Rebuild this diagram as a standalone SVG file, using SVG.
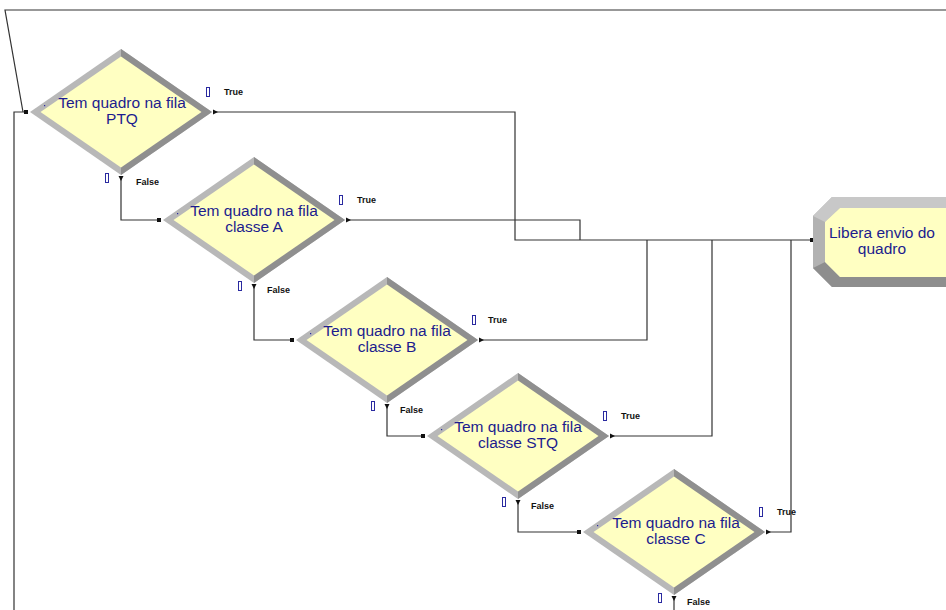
<svg xmlns="http://www.w3.org/2000/svg" xmlns:xlink="http://www.w3.org/1999/xlink" width="946" height="610" viewBox="0 0 946 610">
  <style>
    .wire { fill: none; stroke: #333; stroke-width: 1.2; }
    .name { font-family: "Liberation Sans", Arial, sans-serif; font-size: 15.5px; fill: #1c1c8e; text-anchor: middle; }
    .tag { font-family: "Liberation Sans", Arial, sans-serif; font-size: 9px; font-weight: bold; fill: #111; }
    .brk { fill: none; stroke: #2a2aa0; stroke-width: 1; }
    .pin { fill: #111; }
  </style>
  <defs>
    <!-- decision shape, centred on 0,0 -->
    <g id="dia">
      <polygon points="0,-63 91,0 0,63 -91,0" fill="#b8b8b8"/>
      <polygon points="0,-63 91,0 0,63" fill="#8f8f8f"/>
      <polygon points="0,-55.5 80.5,0 0,55.5 -80.5,0" fill="#ffffc2"/>
      <rect x="-77" y="-7" width="1.2" height="1.2" fill="#2a2aa0"/>
      <!-- exit arrowheads -->
      <polygon points="92,-2.5 97,0 92,2.5" fill="#111"/>
      <polygon points="-2.5,64 0,69 2.5,64" fill="#111"/>
      <!-- port markers -->
      <rect class="brk" x="85.5" y="-24.5" width="3" height="9"/>
      <rect class="brk" x="-15.5" y="61.5" width="3" height="9"/>
      <!-- entry point -->
      <rect class="pin" x="-97" y="-2" width="4" height="4"/>
    </g>
  </defs>

  <rect width="946" height="610" fill="#fff"/>

  <g id="connectors">
    <!-- loop back into the first decision -->
    <polyline class="wire" points="946,10 5,10 23,112"/>
    <polyline class="wire" points="14,610 14,112 26,112"/>
    <!-- True branches to the release block -->
    <polyline class="wire" points="216,112 515,112 515,240 810,240"/>
    <polyline class="wire" points="349,220 580,220 580,240"/>
    <polyline class="wire" points="482,340 647,340 647,240"/>
    <polyline class="wire" points="612,436 712,436 712,240"/>
    <polyline class="wire" points="769,532 791,532 791,240"/>
    <!-- False branches to the next decision -->
    <polyline class="wire" points="121,178 121,220 157,220"/>
    <polyline class="wire" points="254,286 254,340 290,340"/>
    <polyline class="wire" points="387,406 387,436 421,436"/>
    <polyline class="wire" points="518,502 518,532 577,532"/>
    <polyline class="wire" points="674,598 674,610"/>
    <rect class="pin" x="810" y="238" width="4" height="4"/>
  </g>

  <g id="dec-ptq">
    <use xlink:href="#dia" x="121" y="112"/>
    <text class="name" x="122" y="108">Tem quadro na fila</text>
    <text class="name" x="122" y="124">PTQ</text>
    <text class="tag" x="224" y="95">True</text>
    <text class="tag" x="136" y="185">False</text>
  </g>

  <g id="dec-a">
    <use xlink:href="#dia" x="254" y="220"/>
    <text class="name" x="254" y="216">Tem quadro na fila</text>
    <text class="name" x="254" y="232">classe A</text>
    <text class="tag" x="357" y="203">True</text>
    <text class="tag" x="267" y="293">False</text>
  </g>

  <g id="dec-b">
    <use xlink:href="#dia" x="387" y="340"/>
    <text class="name" x="387" y="336">Tem quadro na fila</text>
    <text class="name" x="387" y="352">classe B</text>
    <text class="tag" x="488" y="323">True</text>
    <text class="tag" x="400" y="413">False</text>
  </g>

  <g id="dec-stq">
    <use xlink:href="#dia" x="518" y="436"/>
    <text class="name" x="518" y="432">Tem quadro na fila</text>
    <text class="name" x="518" y="448">classe STQ</text>
    <text class="tag" x="621" y="419">True</text>
    <text class="tag" x="531" y="509">False</text>
  </g>

  <g id="dec-c">
    <use xlink:href="#dia" x="674" y="532"/>
    <text class="name" x="676" y="528">Tem quadro na fila</text>
    <text class="name" x="676" y="544">classe C</text>
    <text class="tag" x="777" y="515">True</text>
    <text class="tag" x="687" y="605">False</text>
  </g>

  <g id="libera">
    <!-- bevelled frame -->
    <polygon points="832,197 960,197 960,287 832,287 813,268 813,216" fill="#b2b2b2"/>
    <polygon points="832,197 960,197 960,208 840,208 825,222 813,216" fill="#c8c8c8"/>
    <polygon points="825,262 840,277 960,277 960,287 832,287 813,268" fill="#8e8e8e"/>
    <polygon points="840,208 960,208 960,277 840,277 825,262 825,222" fill="#ffffc2"/>
    <text class="name" x="882" y="238">Libera envio do</text>
    <text class="name" x="882" y="254">quadro</text>
  </g>
</svg>
